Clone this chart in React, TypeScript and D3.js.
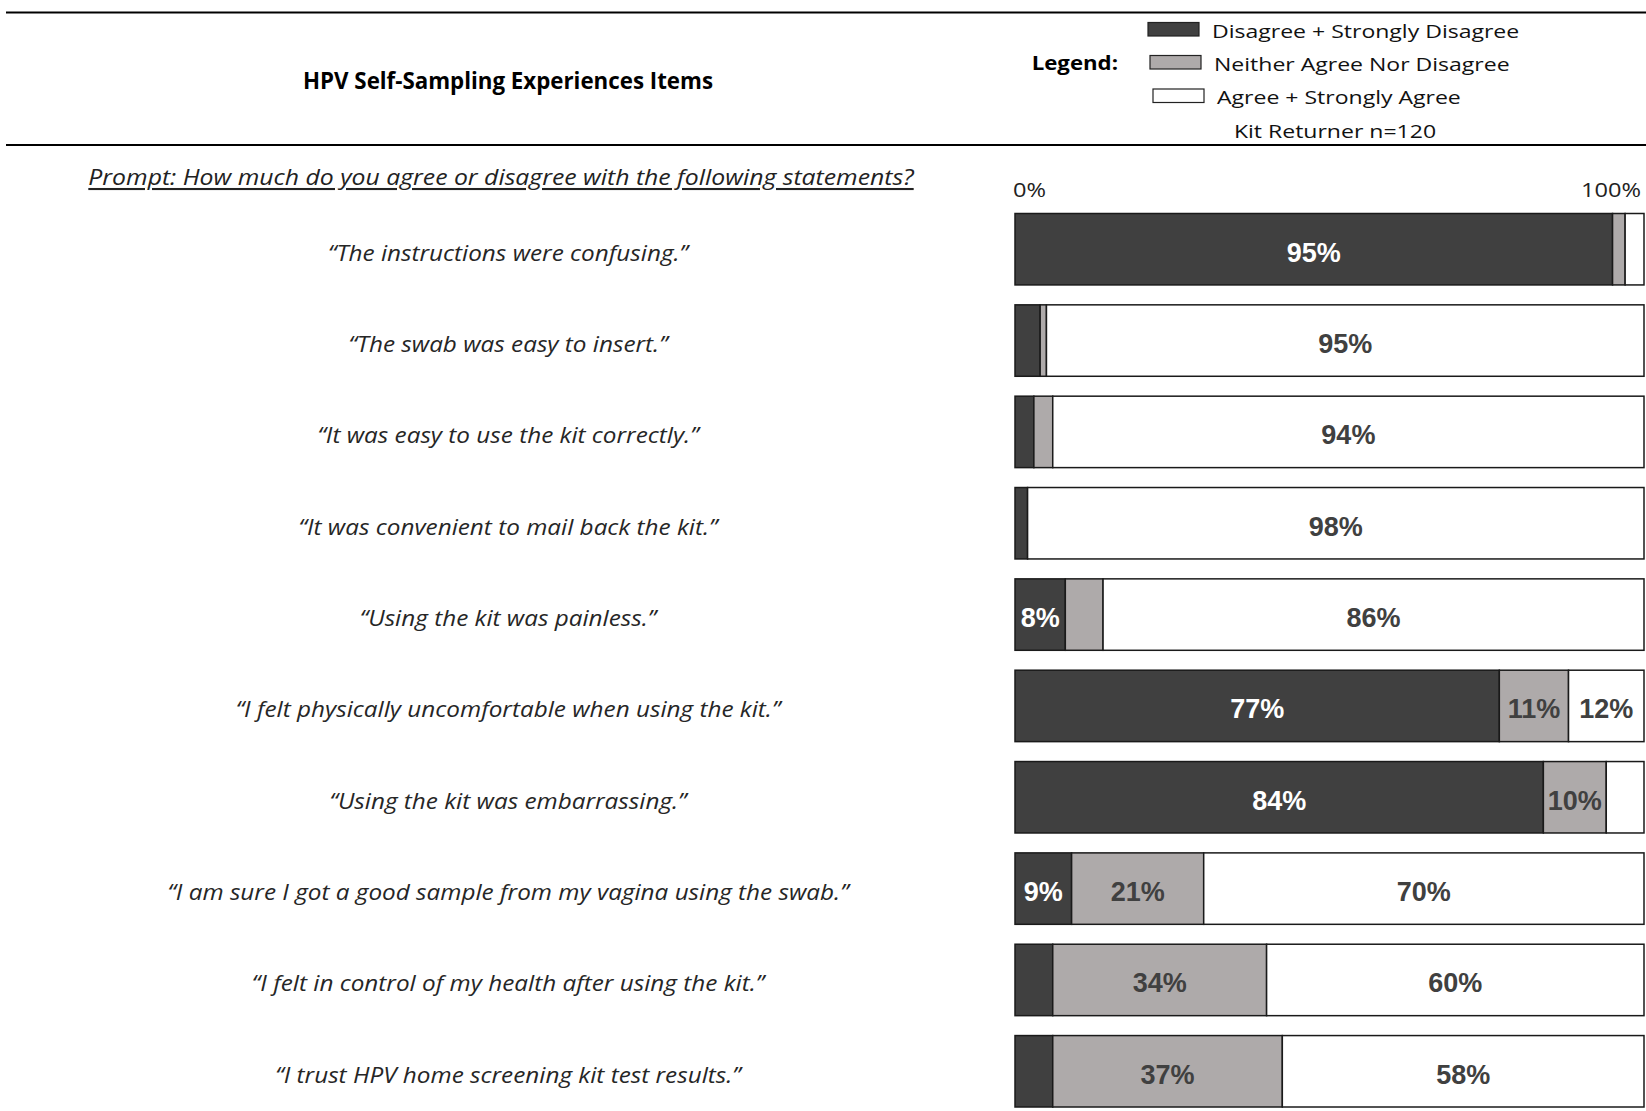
import React from "react";
import * as d3 from "d3";

const items = [
  "\u201CThe instructions were confusing.\u201D",
  "\u201CThe swab was easy to insert.\u201D",
  "\u201CIt was easy to use the kit correctly.\u201D",
  "\u201CIt was convenient to mail back the kit.\u201D",
  "\u201CUsing the kit was painless.\u201D",
  "\u201CI felt physically uncomfortable when using the kit.\u201D",
  "\u201CUsing the kit was embarrassing.\u201D",
  "\u201CI am sure I got a good sample from my vagina using the swab.\u201D",
  "\u201CI felt in control of my health after using the kit.\u201D",
  "\u201CI trust HPV home screening kit test results.\u201D",
];

const disagree = [95, 4, 3, 2, 8, 77, 84, 9, 6, 6];
const neither = [2, 1, 3, 0, 6, 11, 10, 21, 34, 36.5];
const agree = [3, 95, 94, 98, 86, 12, 6, 70, 60, 57.5];

const seriesNames = [
  "Disagree + Strongly Disagree",
  "Neither Agree Nor Disagree",
  "Agree + Strongly Agree",
];
const seriesKeys = ["disagree", "neither", "agree"];
const tickLabels = ["0%", "100%"];

const title = "HPV Self-Sampling Experiences Items";
const prompt = "Prompt: How much do you agree or disagree with the following statements?";
const sampleNote = "Kit Returner n=120";

const COLORS = ["#404040", "#aeaaaa", "#ffffff"];
const LABEL_COLORS = ["#ffffff", "#404040", "#404040"];
const FONT = "'Open Sans', Lato, sans-serif";
const BAR_FONT = "'Liberation Sans', Arial, sans-serif";

function SText({
  x,
  y,
  sx = 1,
  children,
  ...rest
}: {
  x: number;
  y: number;
  sx?: number;
  children: React.ReactNode;
  [k: string]: any;
}) {
  return (
    <g transform={`translate(${x},${y}) scale(${sx},1)`}>
      <text x={0} y={0} dominantBaseline="central" {...rest}>
        {children}
      </text>
    </g>
  );
}

export default function App() {
  const W = 1646;
  const H = 1111;
  const rows = items.map((item, i) => ({
    item,
    disagree: disagree[i],
    neither: neither[i],
    agree: agree[i],
  }));
  const stack = d3.stack<any>().keys(seriesKeys)(rows);

  const x = d3.scaleLinear().domain([0, 100]).range([1015, 1644]);
  const y = d3
    .scaleBand<string>()
    .domain(items)
    .range([213.5, 1107])
    .paddingInner(0.218)
    .paddingOuter(0);

  const labelX = 508;
  const LEG_FS = 18;
  const LEG_SX = 1.28;

  return (
    <svg
      width={W}
      height={H}
      style={{ position: "absolute", left: 0, top: 0, background: "#fff" }}
      fontFamily={FONT}
    >
      <rect x={0} y={0} width={W} height={H} fill="#fff" />
      {/* header rules */}
      <line x1={6} x2={W} y1={12.5} y2={12.5} stroke="#000" strokeWidth={2} />
      <line x1={6} x2={W} y1={145} y2={145} stroke="#000" strokeWidth={2} />

      <SText
        x={508}
        y={80.5}
        textAnchor="middle"
        fontWeight="bold"
        fontSize={22.3}
        fill="#000"
      >
        {title}
      </SText>

      {/* legend */}
      <SText
        x={1118}
        y={63}
        sx={1.17}
        textAnchor="end"
        fontWeight="bold"
        fontSize={19}
        fill="#000"
      >
        Legend:
      </SText>
      {seriesNames.map((name, i) => {
        const sx = [1148, 1150, 1153][i];
        const sy = [22.5, 55.5, 89][i];
        return (
          <g key={name}>
            <rect
              x={sx}
              y={sy}
              width={51}
              height={13.5}
              fill={COLORS[i]}
              stroke="#222"
              strokeWidth={1.2}
            />
            <SText
              x={sx + 64}
              y={sy + 8.5}
              sx={LEG_SX}
              fontSize={LEG_FS}
              fill="#111"
            >
              {name}
            </SText>
          </g>
        );
      })}
      <SText
        x={1335}
        y={131}
        sx={LEG_SX}
        textAnchor="middle"
        fontSize={LEG_FS}
        fill="#111"
      >
        {sampleNote}
      </SText>

      {/* prompt */}
      <SText
        x={501}
        y={177}
        sx={1.18}
        textAnchor="middle"
        fontStyle="italic"
        fontSize={21}
        fill="#222"
        textDecoration="underline"
      >
        {prompt}
      </SText>

      {/* ticks */}
      <SText x={x(0) - 2} y={189} sx={1.18} fontSize={20} fill="#222">
        {tickLabels[0]}
      </SText>
      <SText
        x={x(100) - 3}
        y={189}
        sx={1.18}
        textAnchor="end"
        fontSize={20}
        fill="#222"
      >
        {tickLabels[1]}
      </SText>

      {/* row labels */}
      {items.map((item) => (
        <SText
          key={item}
          x={labelX}
          y={(y(item) as number) + y.bandwidth() / 2 + 3}
          sx={1.12}
          textAnchor="middle"
          fontStyle="italic"
          fontSize={21.7}
          fill="#262626"
        >
          {item}
        </SText>
      ))}

      {/* bars */}
      {stack.map((layer, si) => (
        <g key={layer.key}>
          {layer.map((d, i) => {
            const w = x(d[1]) - x(d[0]);
            if (w <= 0) return null;
            return (
              <rect
                key={i}
                x={x(d[0])}
                y={y(items[i])}
                width={w}
                height={y.bandwidth()}
                fill={COLORS[si]}
                stroke="#1a1a1a"
                strokeWidth={1.5}
              />
            );
          })}
        </g>
      ))}

      {/* bar labels */}
      {stack.map((layer, si) => (
        <g key={"l" + layer.key}>
          {layer.map((d, i) => {
            const v = d[1] - d[0];
            if (v < 7.5) return null;
            return (
              <text
                key={i}
                x={x((d[0] + d[1]) / 2)}
                y={(y(items[i]) as number) + y.bandwidth() / 2 + 3.3}
                textAnchor="middle"
                dominantBaseline="central"
                fontFamily={BAR_FONT}
                fontWeight="bold"
                fontSize={27}
                fill={LABEL_COLORS[si]}
              >
                {Math.round(v) + "%"}
              </text>
            );
          })}
        </g>
      ))}
    </svg>
  );
}
